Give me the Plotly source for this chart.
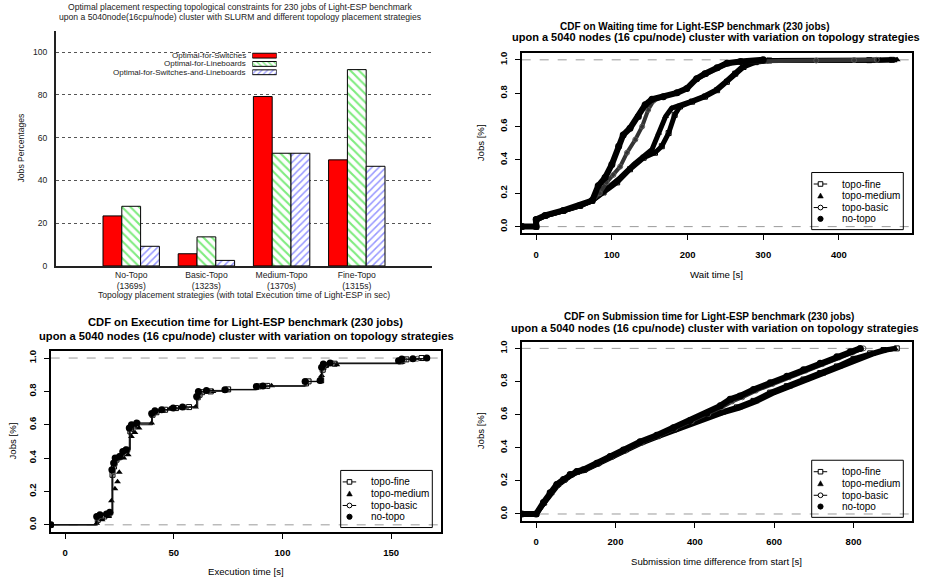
import plotly.graph_objects as go

W, H = 930, 585
def px(x): return x / W
def py(y): return 1 - y / H

FONT = "Liberation Sans"

# ---------------- Panel 1 data (bar chart) ----------------
strategies = ["No-Topo", "Basic-Topo", "Medium-Topo", "Fine-Topo"]
exec_totals = ["(1369s)", "(1323s)", "(1370s)", "(1315s)"]
series_names = ["Optimal-for-Switches", "Optimal-for-Lineboards", "Optimal-for-Switches-and-Lineboards"]
optimal_switches = [23.4, 5.7, 79.2, 49.6]
optimal_lineboards = [27.9, 13.6, 52.7, 91.8]
optimal_both = [9.2, 2.6, 52.7, 46.6]
bar_yticks = [0, 20, 40, 60, 80, 100]

# ---------------- Panel 2 data (CDF waiting time) ----------------
wait_fine_x = [-19, 0, 0, 12, 36, 58, 74, 89, 107, 124, 142, 157, 166, 175, 183, 190, 206, 223, 239, 252, 263, 274, 290, 308, 440, 470]
wait_fine_y = [0, 0, 0.04, 0.065, 0.095, 0.125, 0.155, 0.205, 0.265, 0.344, 0.413, 0.443, 0.482, 0.561, 0.67, 0.72, 0.749, 0.779, 0.818, 0.868, 0.917, 0.957, 0.986, 0.996, 0.998, 1.0]
wait_medium_x = [-19, 0, 0, 12, 36, 58, 74, 93, 111, 129, 144, 153, 162, 171, 179, 190, 204, 221, 237, 250, 261, 272, 287, 305, 455, 477]
wait_medium_y = [0, 0, 0.04, 0.065, 0.095, 0.125, 0.155, 0.225, 0.294, 0.373, 0.423, 0.462, 0.561, 0.66, 0.71, 0.725, 0.75, 0.78, 0.818, 0.868, 0.917, 0.957, 0.986, 0.996, 0.998, 1.0]
wait_basic_x = [-19, 0, 0, 12, 36, 58, 74, 84, 93, 102, 111, 120, 131, 140, 148, 155, 168, 186, 199, 212, 225, 240, 255, 272, 370, 420, 450]
wait_basic_y = [0, 0, 0.045, 0.065, 0.095, 0.125, 0.155, 0.2, 0.265, 0.31, 0.36, 0.443, 0.522, 0.60, 0.70, 0.755, 0.779, 0.80, 0.826, 0.884, 0.915, 0.95, 0.978, 0.99, 0.996, 0.998, 1.0]
wait_notopo_x = [-19, 0, 0, 12, 36, 58, 74, 82, 91, 100, 109, 115, 124, 135, 144, 153, 168, 186, 199, 212, 223, 239, 252, 270, 300]
wait_notopo_y = [0, 0, 0.043, 0.067, 0.097, 0.126, 0.156, 0.245, 0.294, 0.373, 0.482, 0.55, 0.59, 0.66, 0.73, 0.763, 0.779, 0.802, 0.828, 0.887, 0.917, 0.953, 0.98, 0.99, 1.0]

# ---------------- Panel 3 data (CDF execution time) ----------------
exec_notopo_x = [-6.65, 14.5, 16, 19, 20.5, 21.5, 22.3, 23, 25, 26.5, 28, 29.5, 30.5, 32.9, 39.8, 41.3, 44.4, 49.7, 54, 60.5, 61.3, 65, 73.5, 88, 91, 110.4, 117.3, 118, 118.8, 121.9, 153.4, 154.9, 160, 166.4]
exec_notopo_y = [0, 0.05, 0.06, 0.065, 0.075, 0.33, 0.37, 0.40, 0.41, 0.44, 0.45, 0.58, 0.60, 0.61, 0.668, 0.684, 0.69, 0.70, 0.707, 0.77, 0.80, 0.806, 0.81, 0.83, 0.832, 0.86, 0.866, 0.945, 0.964, 0.97, 0.984, 0.994, 0.996, 1.0]
exec_basic_x = [-6.65, 15, 17, 19.5, 21, 22, 22.8, 24, 26, 27.5, 29.8, 31, 33.5, 40, 42, 45, 50, 55, 60.8, 62, 66, 74, 88.5, 92, 111, 117.5, 118.3, 119.5, 123, 154, 156, 162, 166]
exec_basic_y = [0, 0.045, 0.055, 0.065, 0.07, 0.32, 0.36, 0.39, 0.42, 0.44, 0.57, 0.60, 0.61, 0.665, 0.68, 0.69, 0.70, 0.705, 0.76, 0.79, 0.80, 0.81, 0.828, 0.832, 0.858, 0.864, 0.94, 0.96, 0.968, 0.982, 0.99, 0.996, 1.0]
exec_medium_x = [-6.65, 14.5, 17, 20, 21.3, 22.9, 24.1, 24.9, 27, 29, 30.5, 32.1, 34, 39.8, 43, 48, 53, 60, 62, 68, 74.3, 90, 95, 117.5, 118, 120, 125, 155, 160, 166]
exec_medium_y = [0, 0.01, 0.03, 0.05, 0.144, 0.217, 0.259, 0.316, 0.40, 0.42, 0.53, 0.553, 0.58, 0.61, 0.68, 0.695, 0.70, 0.707, 0.79, 0.80, 0.81, 0.83, 0.834, 0.86, 0.895, 0.955, 0.96, 0.975, 0.99, 1.0]
exec_fine_x = [-6.65, 15, 18, 20, 21.8, 22.5, 23.5, 25.5, 27, 28.5, 30, 31.5, 33, 40.2, 42, 46, 51, 57, 61, 63, 67, 75, 89, 93, 112, 117.8, 118.5, 120, 124, 154.5, 157, 164]
exec_fine_y = [0, 0.03, 0.05, 0.06, 0.3, 0.35, 0.39, 0.41, 0.43, 0.45, 0.56, 0.59, 0.60, 0.66, 0.675, 0.69, 0.70, 0.706, 0.765, 0.795, 0.80, 0.812, 0.83, 0.833, 0.86, 0.866, 0.93, 0.958, 0.966, 0.98, 0.992, 1.0]

# ---------------- Panel 4 data (CDF submission time) ----------------
sub_notopo_x = [-36, 0, 18.5, 35.3, 52, 69, 85.7, 102.5, 119, 153, 186.6, 220, 262, 304, 346, 388, 430, 464, 489, 514, 548, 590, 632, 674, 716, 758, 791.6, 817]
sub_notopo_y = [0, 0, 0.069, 0.129, 0.178, 0.208, 0.238, 0.257, 0.267, 0.307, 0.347, 0.386, 0.436, 0.475, 0.521, 0.564, 0.608, 0.653, 0.693, 0.713, 0.752, 0.792, 0.832, 0.871, 0.911, 0.950, 0.980, 1.0]
sub_basic_x = [-36, 0, 20, 37, 54, 71, 88, 105, 122, 156, 190, 224, 266, 308, 350, 392, 434, 468, 494, 520, 554, 596, 638, 680, 722, 764, 798, 825]
sub_basic_y = [0, 0, 0.066, 0.126, 0.175, 0.205, 0.235, 0.254, 0.265, 0.305, 0.344, 0.383, 0.432, 0.472, 0.517, 0.56, 0.604, 0.645, 0.68, 0.705, 0.745, 0.785, 0.826, 0.866, 0.905, 0.945, 0.976, 1.0]
sub_fine_x = [-36, 0, 19, 36, 53, 70, 87, 104, 121, 155, 188, 222, 264, 306, 348, 390, 432, 464, 506, 548, 590, 632, 674, 716, 758, 800, 842, 875.6, 909]
sub_fine_y = [0, 0, 0.067, 0.127, 0.176, 0.206, 0.236, 0.255, 0.266, 0.305, 0.345, 0.384, 0.432, 0.47, 0.51, 0.55, 0.59, 0.614, 0.644, 0.683, 0.733, 0.772, 0.812, 0.851, 0.891, 0.937, 0.970, 0.99, 1.0]
sub_medium_x = [-36, 0, 20, 38, 55, 72, 89, 106, 123, 157, 191, 225, 267, 309, 351, 393, 435, 470, 512, 554, 596, 638, 680, 722, 764, 806, 848, 880, 905]
sub_medium_y = [0, 0, 0.065, 0.125, 0.174, 0.204, 0.234, 0.253, 0.264, 0.303, 0.343, 0.382, 0.43, 0.468, 0.507, 0.546, 0.585, 0.61, 0.64, 0.678, 0.728, 0.767, 0.806, 0.846, 0.886, 0.93, 0.965, 0.988, 1.0]

cdf_labels = ["topo-fine", "topo-medium", "topo-basic", "no-topo"]
cdf_yticks = [0, 0.2, 0.4, 0.6, 0.8, 1.0]
cdf_yticktext = ["0.0", "0.2", "0.4", "0.6", "0.8", "1.0"]

GREEN = "#00d800"
BLUE = "#3030ff"
P1 = 8.6  # panel-1 font size

fig = go.Figure()

# ---------- Panel 1 bars ----------
xs = list(range(len(strategies)))
green_pat = dict(shape="\\", fgcolor=GREEN, bgcolor="white", size=6, solidity=0.35)
blue_pat = dict(shape="/", fgcolor=BLUE, bgcolor="white", size=5, solidity=0.3)
fig.add_trace(go.Bar(x=xs, y=optimal_switches, name=series_names[0], marker=dict(color="#ff0000", line=dict(color="black", width=1)), xaxis="x", yaxis="y", showlegend=False))
fig.add_trace(go.Bar(x=xs, y=optimal_lineboards, name=series_names[1], marker=dict(color="white", line=dict(color="black", width=1), pattern=green_pat), xaxis="x", yaxis="y", showlegend=False))
fig.add_trace(go.Bar(x=xs, y=optimal_both, name=series_names[2], marker=dict(color="white", line=dict(color="black", width=1), pattern=blue_pat), xaxis="x", yaxis="y", showlegend=False))

# legend swatches for panel 1 (own hidden axes)
sw_markers = [dict(color="#ff0000", line=dict(color="black", width=1)),
              dict(color="white", line=dict(color="black", width=1), pattern=dict(green_pat, size=4)),
              dict(color="white", line=dict(color="black", width=1), pattern=dict(blue_pat, size=4))]
for i, mk in enumerate(sw_markers):
    fig.add_trace(go.Bar(y=[i], x=[1], orientation="h", width=0.58, offset=-0.29, xaxis="x5", yaxis="y5",
                         showlegend=False, hoverinfo="skip", marker=mk))

# ---------- CDF traces ----------
def add_cdf(xa, ya, data, widths, shape):
    styles = [
        dict(symbol="square-open", size=5, color="black"),
        dict(symbol="triangle-up", size=6, color="black"),
        dict(symbol="circle-open", size=5, color="#555555"),
        dict(symbol="circle", size=7, color="black"),
    ]
    for (x, y), st, w, nm in zip(data, styles, widths, cdf_labels):
        fig.add_trace(go.Scatter(x=x, y=y, mode="lines+markers", name=nm, xaxis=xa, yaxis=ya, showlegend=False,
                                 line=dict(color="black" if nm != "topo-basic" else "#333333", width=w, shape=shape),
                                 marker=st))

add_cdf("x2", "y2", [(wait_fine_x, wait_fine_y), (wait_medium_x, wait_medium_y), (wait_basic_x, wait_basic_y), (wait_notopo_x, wait_notopo_y)], [5, 5, 4, 6], "linear")
add_cdf("x3", "y3", [(exec_fine_x, exec_fine_y), (exec_medium_x, exec_medium_y), (exec_basic_x, exec_basic_y), (exec_notopo_x, exec_notopo_y)], [1, 0, 1, 1], "hv")
add_cdf("x4", "y4", [(sub_fine_x, sub_fine_y), (sub_medium_x, sub_medium_y), (sub_basic_x, sub_basic_y), (sub_notopo_x, sub_notopo_y)], [5, 5, 4, 6], "linear")

# ---------- Layout ----------
tickfont_b = dict(family=FONT, size=9.5, color="black", weight="bold")
def cdf_xaxis(dom, rng, tv):
    return dict(domain=dom, range=rng, tickvals=tv, showline=True, linewidth=2, linecolor="black", mirror=True,
                ticks="outside", ticklen=5, tickwidth=1, tickcolor="black", showgrid=False, zeroline=False,
                tickfont=tickfont_b, ticklabelstandoff=6, fixedrange=True)
def cdf_yaxis(dom, anchor):
    return dict(domain=dom, range=[-0.04, 1.04], tickvals=cdf_yticks, ticktext=cdf_yticktext, tickangle=-90,
                showline=True, linewidth=2, linecolor="black", mirror=True, ticks="outside", ticklen=5, tickwidth=1,
                tickcolor="black", showgrid=False, zeroline=False, tickfont=tickfont_b, anchor=anchor,
                ticklabelstandoff=4, fixedrange=True)

fig.update_layout(
    width=W, height=H, margin=dict(l=0, r=0, t=0, b=0),
    paper_bgcolor="white", plot_bgcolor="white",
    barmode="group", bargap=0.25, bargroupgap=0,
    showlegend=False,
    font=dict(family=FONT, color="black"),
    xaxis=dict(domain=[px(56), px(432)], range=[-1, 4], tickvals=xs,
               ticktext=[f"{s}<br>{t}" for s, t in zip(strategies, exec_totals)],
               showline=True, linewidth=2, linecolor="#222", ticks="", showgrid=False, zeroline=False,
               tickfont=dict(family=FONT, size=P1, color="#222"), anchor="y", fixedrange=True),
    yaxis=dict(domain=[py(267.7), py(30)], range=[0, 110], tickvals=bar_yticks, showline=True, linewidth=2,
               linecolor="#222", ticks="", showgrid=True, gridcolor="#555", griddash="dot", gridwidth=1,
               zeroline=False, tickfont=dict(family=FONT, size=P1, color="#222"), anchor="x",
               ticklabelstandoff=5, fixedrange=True),
    xaxis5=dict(domain=[px(252.3), px(276.7)], range=[0, 1], visible=False, anchor="y5", fixedrange=True),
    yaxis5=dict(domain=[py(76.2), py(51.0)], range=[2.5, -0.5], visible=False, anchor="x5", fixedrange=True),
    xaxis2=cdf_xaxis([px(521.7), px(911.7)], [-19.1, 496.1], [0, 100, 200, 300, 400]),
    yaxis2=cdf_yaxis([py(234.7), py(52.7)], "x2"),
    xaxis3=cdf_xaxis([px(50.7), px(440.7)], [-6.65, 172.8], [0, 50, 100, 150]),
    yaxis3=cdf_yaxis([py(536), py(354)], "x3"),
    xaxis4=cdf_xaxis([px(521.7), px(911.7)], [-36.4, 946.6], [0, 200, 400, 600, 800]),
    yaxis4=cdf_yaxis([py(525), py(344.3)], "x4"),
)
fig.layout.xaxis2.anchor = "y2"
fig.layout.xaxis3.anchor = "y3"
fig.layout.xaxis4.anchor = "y4"

shapes = []
annots = []

def text(x, y, s, size, bold=False, anchor="center", angle=0, color="black"):
    annots.append(dict(x=px(x), y=py(y), xref="paper", yref="paper", text=s, showarrow=False,
                       xanchor=anchor, yanchor="middle", textangle=angle,
                       font=dict(family=FONT, size=size, color=color, weight="bold" if bold else "normal")))

# dashed reference lines at 0 and 1
for n in ["2", "3", "4"]:
    for lv in [0, 1]:
        shapes.append(dict(type="line", xref=f"x{n} domain", yref=f"y{n}", x0=0, x1=1, y0=lv, y1=lv,
                           line=dict(color="#9a9a9a", width=1, dash="dash"), layer="below"))

# CDF legends
def cdf_legend(left, top):
    shapes.append(dict(type="rect", xref="paper", yref="paper", x0=px(left), x1=px(left + 91.6), y0=py(top), y1=py(top + 57.7),
                       line=dict(color="black", width=1), fillcolor="rgba(0,0,0,0)"))
    rows = [11.6, 23.5, 35.4, 46.8]
    cx = left + 8.8
    for r, lab in zip(rows, cdf_labels):
        text(left + 28.5, top + r, lab, 10, anchor="left")
    y0 = top + rows[0]
    shapes.append(dict(type="line", xref="paper", yref="paper", x0=px(left + 2), x1=px(left + 15.5), y0=py(y0), y1=py(y0), line=dict(color="black", width=1)))
    shapes.append(dict(type="rect", xref="paper", yref="paper", x0=px(cx - 2.3), x1=px(cx + 2.3), y0=py(y0 - 2.3), y1=py(y0 + 2.3), line=dict(color="black", width=1), fillcolor="white"))
    y1 = top + rows[1]
    shapes.append(dict(type="path", xref="paper", yref="paper",
                       path=f"M {px(cx - 2.8)},{py(y1 + 2.3)} L {px(cx + 2.8)},{py(y1 + 2.3)} L {px(cx)},{py(y1 - 2.8)} Z",
                       line=dict(color="black", width=0.5), fillcolor="black"))
    y2 = top + rows[2]
    shapes.append(dict(type="line", xref="paper", yref="paper", x0=px(left + 2), x1=px(left + 15.5), y0=py(y2), y1=py(y2), line=dict(color="black", width=1)))
    shapes.append(dict(type="circle", xref="paper", yref="paper", x0=px(cx - 2.4), x1=px(cx + 2.4), y0=py(y2 - 2.4), y1=py(y2 + 2.4), line=dict(color="black", width=1), fillcolor="white"))
    y3 = top + rows[3]
    shapes.append(dict(type="circle", xref="paper", yref="paper", x0=px(cx - 2.6), x1=px(cx + 2.6), y0=py(y3 - 2.6), y1=py(y3 + 2.6), line=dict(color="black", width=1), fillcolor="black"))

cdf_legend(811.7, 173.3)
cdf_legend(340.7, 474.3)
cdf_legend(811.7, 464)

# Panel 1 texts
text(240, 6.3, "Optimal placement respecting topological constraints for 230 jobs of Light-ESP benchmark", P1, color="#222")
text(240, 16.0, "upon a 5040node(16cpu/node) cluster with SLURM and different topology placement strategies", P1, color="#222")
text(244, 297, "Topology placement strategies (with total Execution time of Light-ESP in sec)", P1, color="#222")
text(21, 149, "Jobs Percentages", P1, angle=-90, color="#222")
for i, nm in enumerate(series_names):
    text(247.5, 55.2 + i * 8.4, nm, 8, anchor="right", color="#222")

# Panel 2 texts
text(694, 25.6, "CDF on Waiting time for Light-ESP benchmark (230 jobs)", 10, bold=True)
text(716, 36.6, "upon a 5040 nodes (16 cpu/node) cluster with variation on topology strategies", 11, bold=True)
text(716, 276, "Wait time [s]", 9.7)
text(480, 143.7, "Jobs [%]", 9.6, angle=-90)

# Panel 3 texts
text(245.7, 324.5, "CDF on Execution time for Light-ESP benchmark (230 jobs)", 11.2, bold=True)
text(246, 338, "upon a 5040 nodes (16 cpu/node) cluster with variation on topology strategies", 11.2, bold=True)
text(245.7, 576.7, "Execution time [s]", 9.6)
text(12, 445, "Jobs [%]", 9.6, angle=-90)

# Panel 4 texts
text(709, 319.2, "CDF on Submission time for Light-ESP benchmark (230 jobs)", 10, bold=True)
text(715, 330.6, "upon a 5040 nodes (16 cpu/node) cluster with variation on topology strategies", 11, bold=True)
text(716, 566, "Submission time difference from start [s]", 9.6)
text(480, 434.7, "Jobs [%]", 9.6, angle=-90)

fig.update_layout(shapes=shapes, annotations=annots)
fig.write_html("out.html")
